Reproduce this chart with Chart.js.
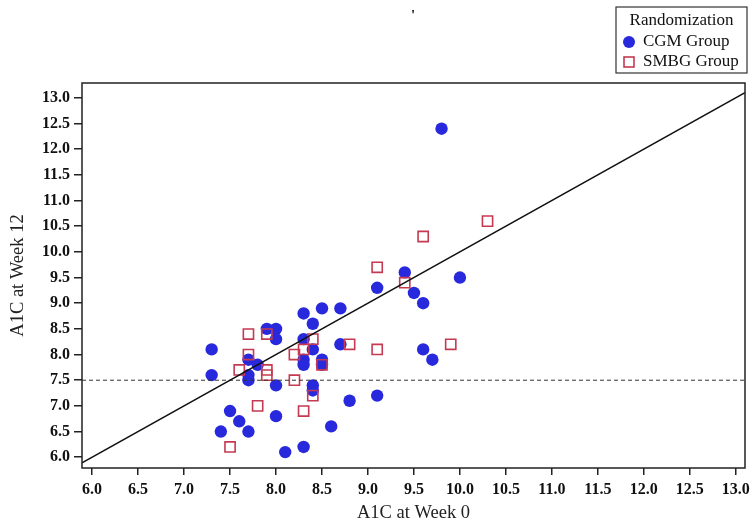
<!DOCTYPE html>
<html><head><meta charset="utf-8">
<script src="https://cdn.jsdelivr.net/npm/chart.js@4/dist/chart.umd.min.js"></script>
<style>html,body{margin:0;padding:0;background:#fff}</style>
</head><body>
<canvas id="c" width="755" height="528"></canvas>
<script>
// ---- data ----
const cgmX = [9.8, 9.4, 9.1, 9.5, 9.6, 10.0, 9.6, 9.7, 9.1, 8.3, 8.5, 8.7, 8.4, 8.3, 8.4, 8.7, 8.3, 8.3, 8.5, 8.5, 8.4, 8.4, 8.8, 8.6, 8.3, 7.3, 7.3, 7.9, 8.0, 8.0, 7.7, 7.8, 7.7, 7.7, 8.0, 7.5, 7.6, 8.0, 7.4, 7.7, 8.1];
const cgmY = [12.4, 9.6, 9.3, 9.2, 9.0, 9.5, 8.1, 7.9, 7.2, 8.8, 8.9, 8.9, 8.6, 8.3, 8.1, 8.2, 7.9, 7.8, 7.9, 7.8, 7.4, 7.3, 7.1, 6.6, 6.2, 8.1, 7.6, 8.5, 8.5, 8.3, 7.9, 7.8, 7.6, 7.5, 7.4, 6.9, 6.7, 6.8, 6.5, 6.5, 6.1];
const smbgX = [10.3, 9.6, 9.1, 9.4, 9.1, 9.9, 8.8, 8.4, 8.3, 8.2, 8.5, 8.4, 8.3, 8.2, 7.7, 7.9, 7.7, 7.6, 7.9, 7.9, 7.8, 7.5];
const smbgY = [10.6, 10.3, 9.7, 9.4, 8.1, 8.2, 8.2, 8.3, 8.1, 8.0, 7.8, 7.2, 6.9, 7.5, 8.4, 8.4, 8.0, 7.7, 7.7, 7.6, 7.0, 6.2];
const xTicks = [6.0, 6.5, 7.0, 7.5, 8.0, 8.5, 9.0, 9.5, 10.0, 10.5, 11.0, 11.5, 12.0, 12.5, 13.0];
const yTicks = [6.0, 6.5, 7.0, 7.5, 8.0, 8.5, 9.0, 9.5, 10.0, 10.5, 11.0, 11.5, 12.0, 12.5, 13.0];
const xRange = [5.89, 13.10];
const yRange = [5.79, 13.29];
const targetA1C = 7.5;
const seriesNames = ['CGM Group', 'SMBG Group'];
const legendTitle = 'Randomization';
const xTitle = 'A1C at Week 0';
const yTitle = 'A1C at Week 12';

// ---- styles ----
const BLUE = '#2828dc';
const RED = '#c43a52';
const SERIF = '"Liberation Serif", "Times New Roman", serif';

const toPts = (xs, ys) => xs.map((x, i) => ({x: x, y: ys[i]}));

const framePlugin = {
  id: 'frame',
  afterDraw(chart) {
    const {ctx, chartArea: a} = chart;
    ctx.save();
    ctx.strokeStyle = '#222';
    ctx.lineWidth = 1.5;
    ctx.strokeRect(a.left, a.top, a.right - a.left, a.bottom - a.top);
    // legend box
    const lx = 616, ly = 7, lw = 131, lh = 66;
    ctx.lineWidth = 1.2;
    ctx.strokeStyle = '#333';
    ctx.strokeRect(lx, ly, lw, lh);
    ctx.fillStyle = '#111';
    ctx.font = '17px ' + SERIF;
    ctx.textBaseline = 'middle';
    ctx.textAlign = 'center';
    ctx.fillText(legendTitle, lx + lw / 2, 21);
    ctx.textAlign = 'left';
    ctx.fillText(seriesNames[0], 643, 42);
    ctx.fillText(seriesNames[1], 643, 62);
    ctx.fillStyle = BLUE;
    ctx.beginPath(); ctx.arc(629, 42, 6, 0, Math.PI * 2); ctx.fill();
    ctx.strokeStyle = RED; ctx.lineWidth = 1.6;
    ctx.strokeRect(624, 57, 10, 10);
    // small stray mark at the top
    ctx.fillStyle = '#111';
    ctx.font = 'bold 15px ' + SERIF;
    ctx.textAlign = 'center';
    ctx.fillText("'", 413, 16);
    ctx.restore();
  }
};

new Chart(document.getElementById('c'), {
  type: 'scatter',
  data: {
    datasets: [
      {
        label: 'identity',
        data: [{x: xRange[0], y: xRange[0]}, {x: xRange[1], y: xRange[1]}],
        showLine: true, pointRadius: 0, borderColor: '#111', borderWidth: 1.5, fill: false
      },
      {
        label: 'target',
        data: [{x: xRange[0], y: targetA1C}, {x: xRange[1], y: targetA1C}],
        showLine: true, pointRadius: 0, borderColor: '#333', borderWidth: 1, borderDash: [4, 3], fill: false
      },
      {
        label: seriesNames[1],
        data: toPts(smbgX, smbgY),
        pointStyle: 'rect', pointRadius: 7.2, backgroundColor: 'rgba(0,0,0,0)',
        borderColor: RED, borderWidth: 1.6
      },
      {
        label: seriesNames[0],
        data: toPts(cgmX, cgmY),
        pointStyle: 'circle', pointRadius: 6.2, backgroundColor: BLUE,
        borderColor: BLUE, borderWidth: 0
      }
    ]
  },
  options: {
    responsive: false,
    animation: false,
    events: [],
    layout: {padding: {left: 0, right: 10, top: 83, bottom: 0}},
    plugins: {legend: {display: false}, tooltip: {enabled: false}, title: {display: false}},
    scales: {
      x: {
        type: 'linear', min: xRange[0], max: xRange[1],
        afterBuildTicks: s => { s.ticks = xTicks.map(v => ({value: v})); },
        afterFit: s => { s.height = 60; },
        grid: {display: true, drawOnChartArea: false, drawTicks: true, tickLength: 7, color: '#222', lineWidth: 1.5},
        border: {display: false},
        ticks: {
          color: '#111', padding: 5, maxRotation: 0, autoSkip: false,
          font: {family: SERIF, size: 16, weight: 'bold'},
          callback: v => Number(v).toFixed(1)
        },
        title: {display: true, text: xTitle, color: '#222', font: {family: SERIF, size: 18.5}, padding: {top: 0, bottom: 4}}
      },
      y: {
        type: 'linear', min: yRange[0], max: yRange[1],
        afterBuildTicks: s => { s.ticks = yTicks.map(v => ({value: v})); },
        afterFit: s => { s.width = 82; },
        grid: {display: true, drawOnChartArea: false, drawTicks: true, tickLength: 8, color: '#222', lineWidth: 1.5},
        border: {display: false},
        ticks: {
          color: '#111', padding: 4, autoSkip: false,
          font: {family: SERIF, size: 16, weight: 'bold'},
          callback: v => Number(v).toFixed(1)
        },
        title: {display: true, text: yTitle, color: '#222', font: {family: SERIF, size: 18.5}, padding: {top: 7, bottom: 0}}
      }
    }
  },
  plugins: [framePlugin]
});
</script>
</body></html>
